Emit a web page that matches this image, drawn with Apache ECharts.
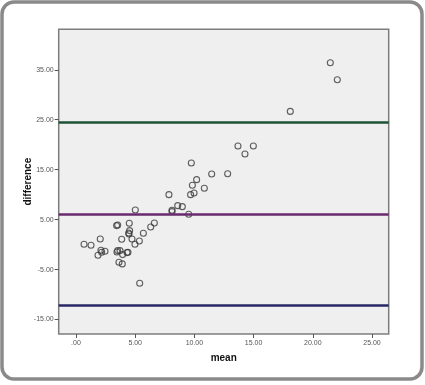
<!DOCTYPE html>
<html><head><meta charset="utf-8">
<script src="https://cdn.jsdelivr.net/npm/echarts@6/dist/echarts.min.js"></script>
<style>html,body{margin:0;padding:0;background:#fff}#c{width:425px;height:385px}</style>
</head><body><div id="c"></div>
<script>
const meanVals = [21.48,22.07,18.1,13.68,14.98,14.27,9.74,11.46,12.81,10.19,9.83,10.84,7.85,9.68,9.97,8.59,8.98,5.01,8.11,8.11,9.52,6.62,4.5,6.31,3.43,3.52,4.53,4.45,4.48,5.69,2.05,3.86,4.73,5.35,4.98,0.68,1.27,2.11,2.45,2.17,1.86,3.46,3.72,3.52,3.94,4.31,4.39,3.63,3.91,5.38];
const diffVals = [36.4,33.0,26.66,19.73,19.73,18.13,16.33,14.13,14.17,13.0,11.87,11.27,10.0,10.0,10.33,7.8,7.6,6.93,6.87,6.6,6.07,4.33,4.27,3.53,3.8,3.93,2.8,2.33,2.13,2.27,1.13,1.07,1.13,0.73,0.07,0.07,-0.13,-1.13,-1.33,-1.53,-2.13,-1.47,-1.2,-1.2,-2.0,-1.6,-1.53,-3.53,-3.87,-7.73];
const refLines = [24.4, 6.0, -12.14];
const refColors = ['#1d5236','#6a2a6e','#2a2766'];
const xTicks = [0,5,10,15,20,25];
const yTicks = [-15,-5,5,15,25,35];
const fmt = v => { const s = v.toFixed(2); return s.startsWith('0.') ? s.slice(1) : s; };

const chart = echarts.init(document.getElementById('c'), null, {renderer:'canvas'});
const points = meanVals.map((m,i)=>[m, diffVals[i]]);
chart.setOption({
  backgroundColor:'#fff',
  animation:false,
  graphic:[{type:'rect', shape:{x:2,y:2,width:420,height:377,r:12}, style:{fill:'none', stroke:'#8a8a8a', lineWidth:3.5}, z:100}],
  grid:{left:58.7, right:36.3, top:29.3, bottom:51, show:true, backgroundColor:'#efefef', borderColor:'#7d7d7d', borderWidth:1.5},
  xAxis:{type:'value', min:-1.46, max:26.41, name:'mean', nameLocation:'middle', nameGap:19, nameMoveOverlap:false,
    nameTextStyle:{fontFamily:'Liberation Sans', fontWeight:'bold', fontSize:10, color:'#111'},
    axisLine:{show:false, onZero:false}, splitLine:{show:false},
    axisTick:{show:true, length:4, lineStyle:{color:'#555'}, customValues:xTicks},
    axisLabel:{customValues:xTicks, formatter:fmt, fontSize:7, color:'#555', fontFamily:'Liberation Sans', margin:6}},
  yAxis:{type:'value', min:-17.9, max:43.1, name:'difference', nameLocation:'middle', nameGap:25, nameMoveOverlap:false,
    nameTextStyle:{fontFamily:'Liberation Sans', fontWeight:'bold', fontSize:10, color:'#111'},
    axisLine:{show:false, onZero:false}, splitLine:{show:false},
    axisTick:{show:true, length:4, lineStyle:{color:'#555'}, customValues:yTicks},
    axisLabel:{customValues:yTicks, formatter:fmt, fontSize:7, color:'#555', fontFamily:'Liberation Sans', margin:5}},
  series:[{type:'scatter', data:points, symbol:'circle', symbolSize:6,
    itemStyle:{color:'rgba(0,0,0,0)', borderColor:'#3a3a3a', borderWidth:1.1},
    markLine:{silent:true, symbol:'none', label:{show:false},
      data: refLines.map((v,i)=>({yAxis:v, lineStyle:{color:refColors[i], width:2.5, type:'solid'}}))}}]
});
</script></body></html>
